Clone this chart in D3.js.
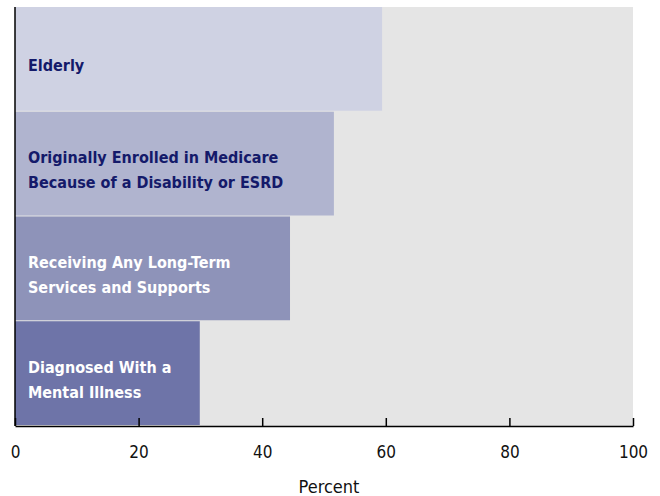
<!DOCTYPE html>
<html>
<head>
<meta charset="utf-8">
<script src="https://cdn.jsdelivr.net/npm/d3@7"></script>
<style>
  body { margin: 0; background: #fff; }
  .chart text { font-family: "DejaVu Sans", sans-serif; font-stretch: condensed; }
</style>
</head>
<body>
<div class="chart" id="chart"></div>
<script>
const categories = [
  ['Elderly'],
  ['Originally Enrolled in Medicare', 'Because of a Disability or ESRD'],
  ['Receiving Any Long-Term', 'Services and Supports'],
  ['Diagnosed With a', 'Mental Illness']
];
const values = [59.4, 51.6, 44.5, 29.9];
const barColors = ['#cfd2e3', '#b0b4cf', '#8e93b9', '#6e74a8'];
const labelColors = ['#141a6a', '#141a6a', '#ffffff', '#ffffff'];
const xTicks = [0, 20, 40, 60, 80, 100];

const margin = { top: 7, right: 27, bottom: 70, left: 15 };
const width = 660 - margin.left - margin.right;
const height = 496 - margin.top - margin.bottom;

const svg = d3
  .select('#chart')
  .append('svg')
  .attr('width', 660)
  .attr('height', 496)
  .append('g')
  .attr('transform', `translate(${margin.left}, ${margin.top})`);

const x = d3.scaleLinear().domain([0, 100]).range([0, width]);
const y = d3
  .scaleBand()
  .domain(d3.range(categories.length))
  .range([0, height])
  .padding(0);

svg
  .append('rect')
  .attr('width', width)
  .attr('height', height)
  .attr('fill', '#e5e5e5');

svg
  .selectAll('.bar')
  .data(values)
  .enter()
  .append('rect')
  .attr('class', 'bar')
  .attr('x', 0)
  .attr('y', (d, i) => y(i))
  .attr('width', (d) => x(d))
  .attr('height', y.bandwidth() - 1)
  .attr('fill', (d, i) => barColors[i]);

const labels = svg
  .selectAll('.label')
  .data(categories)
  .enter()
  .append('text')
  .attr('class', 'label')
  .attr('x', 13)
  .attr('fill', (d, i) => labelColors[i])
  .style('font-size', '16px')
  .style('font-weight', 'bold');

labels.each(function (lines, i) {
  const mid = y(i) + y.bandwidth() / 2 + 6;
  const lh = 25;
  const start = mid - ((lines.length - 1) * lh) / 2;
  d3.select(this)
    .selectAll('tspan')
    .data(lines)
    .enter()
    .append('tspan')
    .attr('x', 13)
    .attr('y', (d, j) => start + j * lh)
    .attr('dy', '0.35em')
    .text((d) => d);
});

const xAxis = svg
  .append('g')
  .attr('transform', `translate(0, ${height})`)
  .call(
    d3.axisBottom(x)
      .tickValues(xTicks)
      .tickSizeInner(-8)
      .tickSizeOuter(0)
      .tickPadding(20)
  );
xAxis.select('.domain').attr('stroke', '#000').attr('stroke-width', 1.5);
xAxis.selectAll('.tick line').attr('stroke', '#000').attr('stroke-width', 1.5);
xAxis
  .selectAll('.tick text')
  .attr('fill', '#111')
  .style('font-size', '17px');

svg
  .append('line')
  .attr('x1', 0)
  .attr('x2', 0)
  .attr('y1', 0)
  .attr('y2', height)
  .attr('stroke', '#000')
  .attr('stroke-width', 1.5);

svg
  .append('text')
  .attr('x', width / 2 + 5)
  .attr('y', height + 67)
  .attr('text-anchor', 'middle')
  .attr('fill', '#111')
  .style('font-size', '18px')
  .text('Percent');
</script>
</body>
</html>
